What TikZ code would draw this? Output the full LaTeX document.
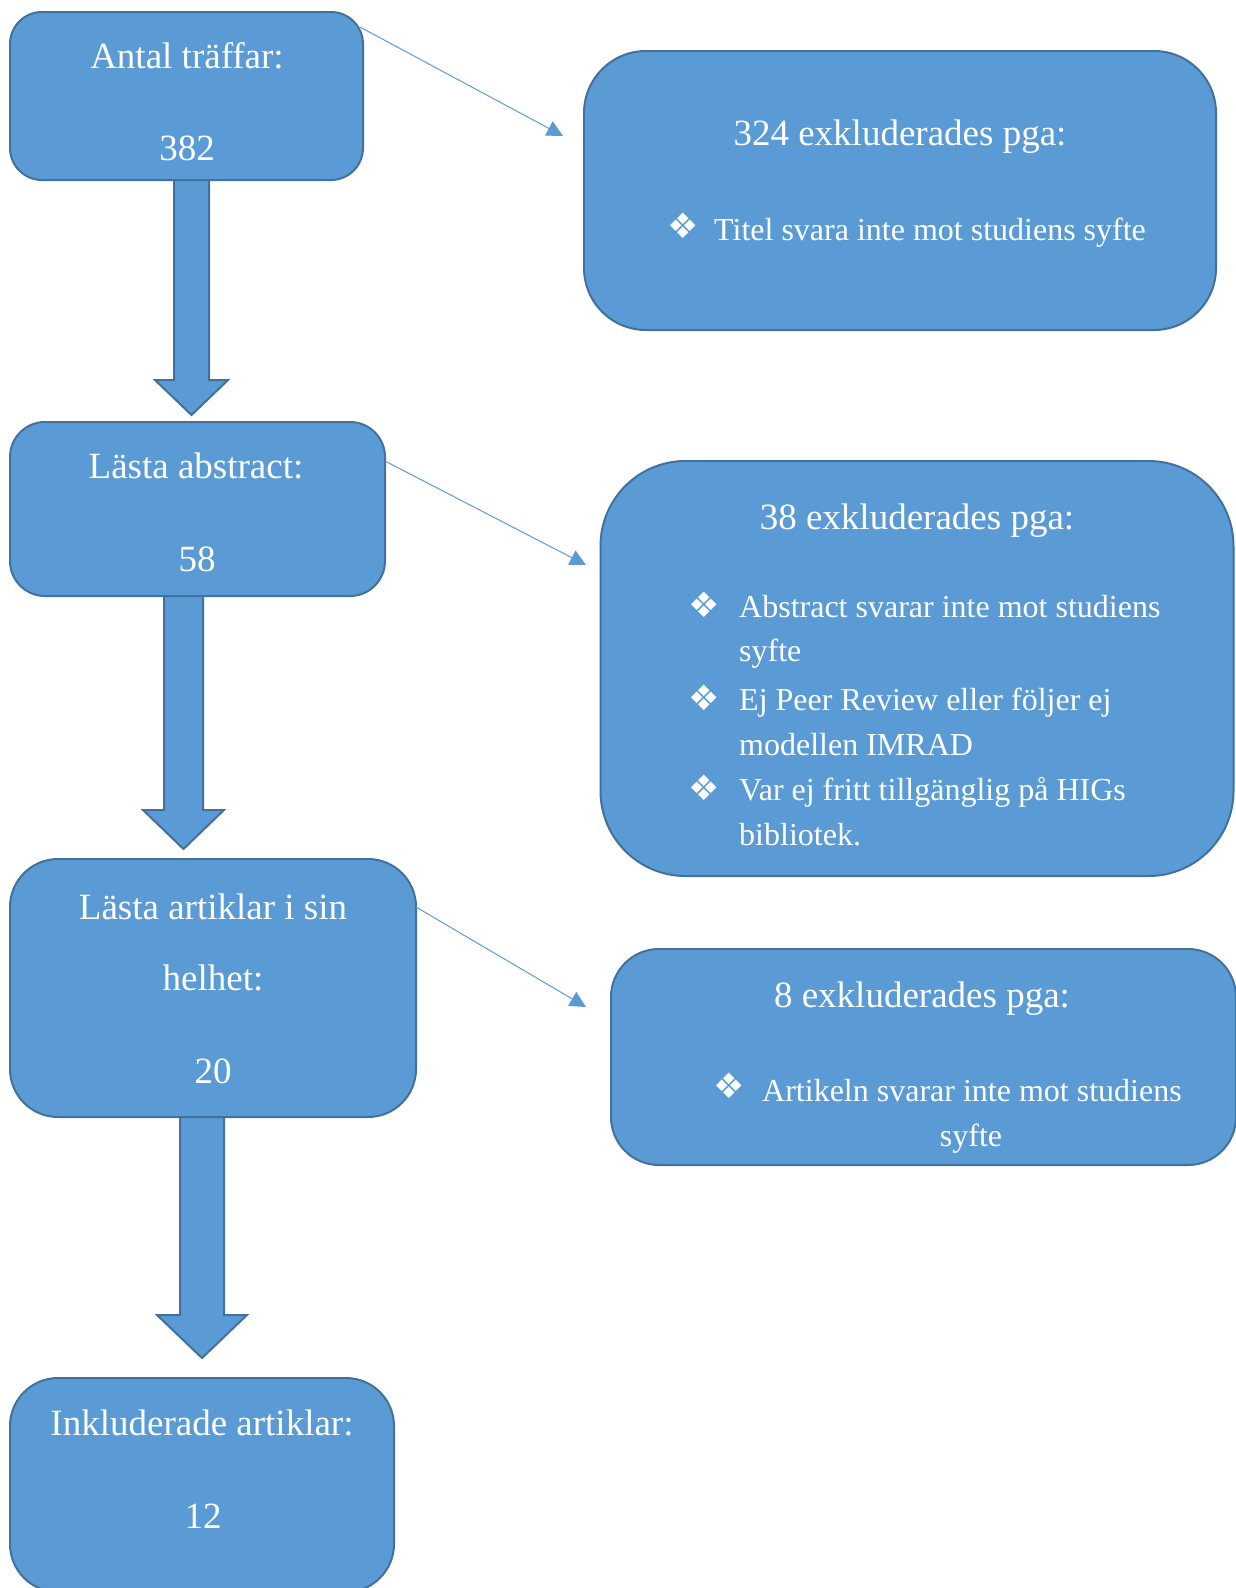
\documentclass[tikz,border=0pt]{standalone}
\usepackage{fontspec}
\setmainfont{Liberation Serif}
\newfontfamily\symfont{DejaVu Sans}
\usetikzlibrary{arrows.meta}
\definecolor{boxblue}{HTML}{5B9BD5}
\definecolor{boxline}{HTML}{41719C}
\begin{document}
\begin{tikzpicture}[x=1pt,y=-1pt,
  box/.style={draw=boxline,line width=2pt,fill=boxblue,inner sep=0pt,outer sep=0pt},
  blockarrow/.style={draw=boxline,line width=2pt,fill=boxblue,line join=miter},
  thin/.style={draw=boxblue,line width=1pt,-{Triangle[length=16pt,width=16pt]}},
  title/.style={text=white,inner sep=0pt,anchor=base,font=\fontsize{37}{44}\selectfont},
  item/.style={text=white,inner sep=0pt,anchor=base west,font=\fontsize{32}{38}\selectfont},
  bul/.style={text=white,inner sep=0pt,anchor=base,font=\symfont\fontsize{35}{38}\selectfont}]
\useasboundingbox (0,0) rectangle (1236,1588);

% boxes
\node[box,minimum width=353pt,minimum height=168pt,rounded corners=32pt] (b1) at (186.5,96) {};
\node[box,minimum width=632pt,minimum height=279pt,rounded corners=62pt] (b2) at (900,190.5) {};
\node[box,minimum width=375pt,minimum height=174pt,rounded corners=35pt] (b3) at (197.5,509) {};
\node[box,minimum width=633pt,minimum height=415pt,rounded corners=85pt] (b4) at (917,668.5) {};
\node[box,minimum width=406pt,minimum height=258pt,rounded corners=48pt] (b5) at (213,988) {};
\node[box,minimum width=625pt,minimum height=216pt,rounded corners=48pt] (b6) at (923.5,1057) {};
\node[box,minimum width=384pt,minimum height=214pt,rounded corners=48pt] (b7) at (202,1485) {};

% block arrows
\draw[blockarrow] (174,180)--(174,380)--(155,380)--(191.5,415)--(228,380)--(209,380)--(209,180)--cycle;
\draw[blockarrow] (164,596)--(164,810)--(143,810)--(183.5,849)--(224,810)--(203,810)--(203,596)--cycle;
\draw[blockarrow] (180,1117)--(180,1315)--(157,1315)--(202,1358)--(247,1315)--(224,1315)--(224,1117)--cycle;

% thin connectors
\coordinate (e1) at (563,136);
\coordinate (e2) at (586,565);
\coordinate (e3) at (586,1007);
\draw[thin] ([xshift=-3pt,yshift=-15pt]b1.north east) -- (e1);
\draw[thin] ([yshift=-39pt]b3.north east) -- (e2);
\draw[thin] ([yshift=-48pt]b5.north east) -- (e3);

% texts box 1
\node[title] (t1a) at (187,68) {Antal träffar:};
\node[title] (t1b) at (187,160) {382};
% box 2
\node[title] (t2a) at (900,145) {324 exkluderades pga:};
\node[bul] (u2a) at (683,238) {❖};
\node[item] (t2b) at (714,240) {Titel svara inte mot studiens syfte};
% box 3
\node[title] (t3a) at (196,478) {Lästa abstract:};
\node[title] (t3b) at (197,571) {58};
% box 4
\node[title] (t4a) at (917,529) {38 exkluderades pga:};
\node[bul] (u4a) at (704,617) {❖};
\node[item] (t4b) at (739,617) {Abstract svarar inte mot studiens};
\node[item] (t4c) at (739,661) {syfte};
\node[bul] (u4b) at (704,710) {❖};
\node[item] (t4d) at (739,710) {Ej Peer Review eller följer ej};
\node[item] (t4e) at (739,755) {modellen IMRAD};
\node[bul] (u4c) at (704,800) {❖};
\node[item] (t4f) at (739,800) {Var ej fritt tillgänglig på HIGs};
\node[item] (t4g) at (739,845) {bibliotek.};
% box 5
\node[title] (t5a) at (213,919) {Lästa artiklar i sin};
\node[title] (t5b) at (213,990) {helhet:};
\node[title] (t5c) at (213,1083) {20};
% box 6
\node[title] (t6a) at (922,1007) {8 exkluderades pga:};
\node[bul] (u6a) at (729,1098) {❖};
\node[item] (t6b) at (762,1101) {Artikeln svarar inte mot studiens};
\node[item,anchor=base] (t6c) at (971,1146) {syfte};
% box 7
\node[title] (t7a) at (202,1435) {Inkluderade artiklar:};
\node[title] (t7b) at (203,1528) {12};
\end{tikzpicture}
\end{document}
